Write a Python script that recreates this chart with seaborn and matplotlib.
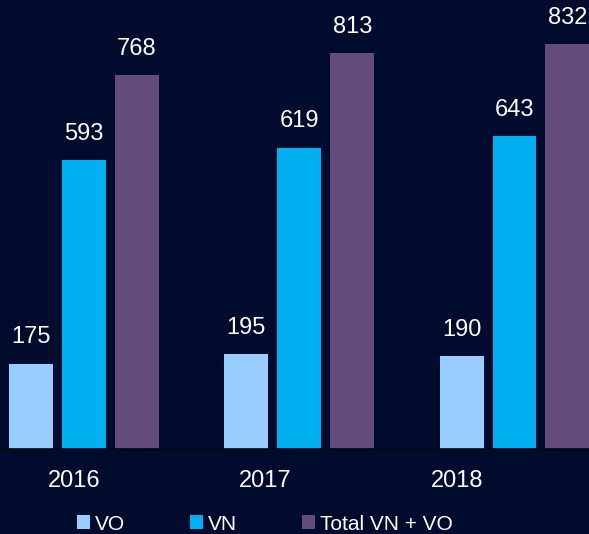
import numpy as np
import pandas as pd
import matplotlib.pyplot as plt
import seaborn as sns

# Data
years = ["2016", "2017", "2018"]
vo = [175, 195, 190]
vn = [593, 619, 643]
total = [768, 813, 832]
series = ["VO", "VN", "Total VN + VO"]

bg = "#000B2E"
colors = ["#99CCFF", "#00B0F0", "#634C7C"]

df = pd.DataFrame({
    "Year": years * 3,
    "Serie": np.repeat(series, len(years)),
    "Value": vo + vn + total,
})

sns.set_theme(style="white")
plt.rcParams["font.family"] = ["Liberation Sans", "DejaVu Sans"]

fig = plt.figure(figsize=(5.89, 5.34), dpi=100, facecolor=bg)
ax = fig.add_axes([0, 85 / 534, 1, 449 / 534])
ax.set_facecolor(bg)

sns.barplot(data=df, x="Year", y="Value", hue="Serie", hue_order=series,
            palette=colors, width=0.738, gap=0.17, saturation=1,
            linewidth=0, edgecolor="none", ax=ax, legend=True)

for c in ax.containers:
    ax.bar_label(c, padding=11, color="white", fontsize=17)

ax.set_xlim(-0.39, 2.346)
ax.set_ylim(0, 922)
ax.set_xlabel("")
ax.set_ylabel("")
ax.set_yticks([])
ax.set_xticks([-0.046, 0.842, 1.734])
ax.set_xticklabels(years, color="white", fontsize=17)
ax.tick_params(axis="x", length=0, pad=15)
for s in ["top", "left", "right"]:
    ax.spines[s].set_visible(False)
ax.spines["bottom"].set_color("#05070f")
ax.spines["bottom"].set_linewidth(1.2)

handles, labels = ax.get_legend_handles_labels()
ax.get_legend().remove()
fig.legend(handles, labels, loc="center left", bbox_to_anchor=(77 / 589, 10 / 534),
           ncol=3, frameon=False, fontsize=15, labelcolor="white",
           handlelength=0.62, handleheight=0.62, handletextpad=0.25,
           columnspacing=3.1, borderaxespad=0, borderpad=0)

fig.savefig("out.png", dpi=100, facecolor=bg)
